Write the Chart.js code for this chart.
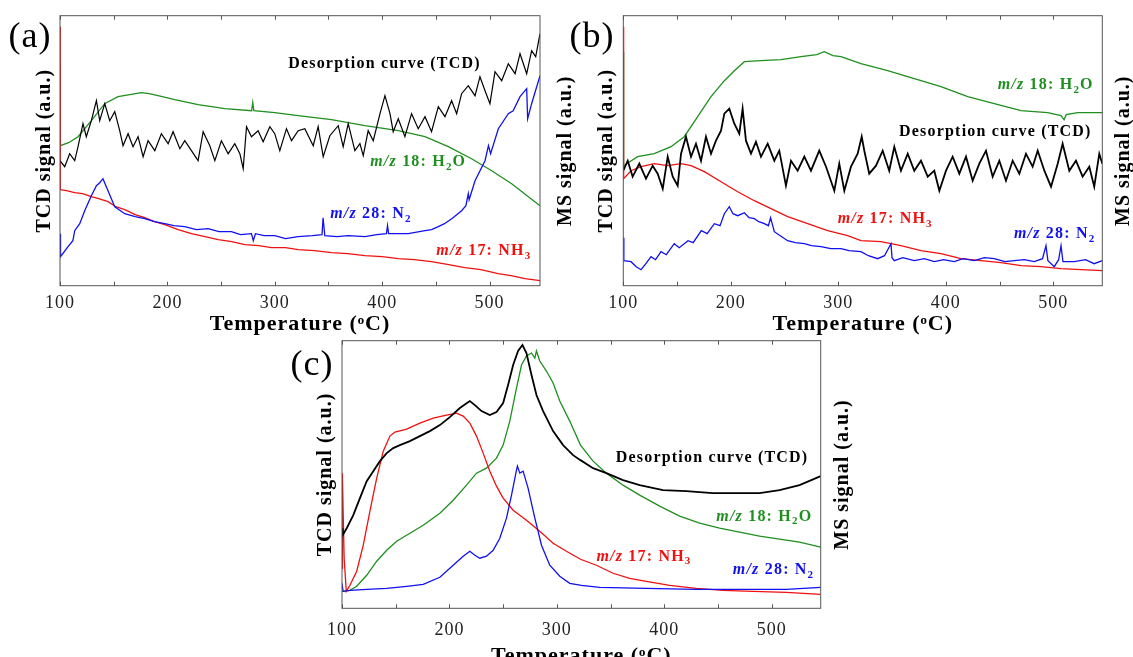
<!DOCTYPE html>
<html>
<head>
<meta charset="utf-8">
<script src="https://cdn.jsdelivr.net/npm/chart.js@4.4.1/dist/chart.umd.min.js"></script>
<style>
  html, body { margin: 0; padding: 0; background: #fff; overflow: hidden; }
  body { width: 1133px; height: 657px; position: relative; }
  canvas { position: absolute; }
</style>
</head>
<body>
<canvas id="chartA" width="580" height="340" style="left:0;top:0"></canvas>
<canvas id="chartB" width="573" height="340" style="left:560px;top:0"></canvas>
<canvas id="chartC" width="580" height="345" style="left:280px;top:330px"></canvas>
<script>
const SERIF = '"Liberation Serif", "Times New Roman", serif';

// axis ticks (temperature, oC)
const tempTicks = [100, 200, 300, 400, 500];
const minorTicks = [100, 150, 200, 250, 300, 350, 400, 450, 500];

// ---- panel (a): [temperature, signal] ----
const aTcd = [[100,125],[104.4,119],[109,132],[113.7,125],[116.8,139],[121.4,162],[124.5,149],[129.2,165],[133.9,185],[137,165],[141.7,182],[146.3,165],[151,174],[155.6,155],[158.7,140],[163.4,152],[168,139],[172.7,149],[177.4,129],[182,145],[188.3,135],[194.4,152],[200.7,142],[205.3,154],[211.6,137],[216.2,145],[222.4,135],[228.6,125],[233.3,154],[239.5,140],[244.2,125],[250.3,145],[256.6,132],[262.8,142],[267.5,132],[270.6,117],[273.7,159],[278.3,149],[284.5,155],[289.2,144],[295.4,159],[300,152],[304.7,135],[310.9,157],[315.6,145],[321.8,155],[328,157],[335.8,140],[340.4,159],[345.1,129],[351.3,150],[359.1,160],[363.7,139],[368.4,162],[374.6,135],[379.3,142],[382.4,130],[387,155],[391.7,145],[398,172],[402.6,190],[407.3,172],[410.3,154],[415,167],[421.2,149],[427.4,172],[433.6,157],[439.9,169],[446,154],[452.3,179],[458.5,169],[464.7,185],[469.4,172],[474,192],[480.2,200],[486.5,190],[491.1,209],[495.8,195],[500.4,182],[505.1,214],[511.3,205],[517.5,222],[523.8,212],[528.4,232],[534.6,212],[539.2,235],[543,229],[547,252]];
const aH2O = [[100,222],[100.3,140],[108,143],[116.8,149],[129.2,165],[141.6,182],[154,189],[165,191],[175.8,193],[183,192],[191.3,190],[206.9,186],[228.6,181],[253.5,177],[278.5,175],[279.5,183],[280.5,175],[300,173],[321.7,170],[352.8,166],[384,160],[415,155],[439.9,149],[461.6,139],[483.3,127],[502,115],[520.6,102],[536.2,89],[547,80]];
const aNH3 = [[100,259],[100.3,96],[106,95],[113.7,93],[121,92],[129.2,89],[136,87],[144.7,84],[152,79],[160.3,76],[170,71],[178.9,68],[188,64],[197.6,61],[210,56],[222.4,52],[235,49],[247.3,46],[260,44],[272.1,41],[285,40],[297,38],[310,38],[321.8,36],[337,35],[352.8,33],[368,32],[384,30],[400,29],[415,27],[430,26],[446,24],[462,21],[477,18],[492,16],[508,12],[520,10],[533,7],[540,6],[547,5]];
const aN2 = [[100,52],[100.5,29],[107.5,39],[112,45],[113.7,55],[118.4,62],[123,75],[129.2,90],[133.9,100],[137,103],[140,107],[144.7,95],[151,79],[160.3,72],[170,69],[178.9,67],[188,64],[197.6,62],[206,60],[216.2,59],[227,56],[237.9,57],[248,54],[259.6,54],[268,51],[278.3,52],[280,45],[282,52],[290,50],[300,50],[310,47],[321.8,49],[335,50],[344,51],[345,68],[346.6,50],[358,49],[368.4,50],[384,49],[395,51],[404,52],[405,60],[406,52],[424.3,52],[439.9,55],[446,56],[452.3,59],[458,62],[464.8,67],[474,75],[478,80],[480.2,92],[481,86],[486.5,105],[495.8,125],[499,140],[501,132],[508.2,157],[517.5,172],[522,175],[528.4,189],[534.6,197],[535.5,167],[539.2,182],[547,210]];

// ---- panel (b) ----
const bTcd = [[100,115],[104.1,125],[108.7,109],[114.9,122],[121.1,107],[127.3,120],[132,112],[136.7,97],[141.3,129],[146,109],[150.6,100],[153.7,132],[158.3,149],[163,129],[167.6,142],[172.3,125],[176.9,149],[181.6,132],[186.2,145],[190.9,155],[194,172],[198.6,177],[203.3,162],[207.9,152],[211,177],[214.1,145],[218.8,132],[223.4,144],[228.1,129],[234.3,142],[240.5,125],[245.1,135],[251.3,100],[256,125],[262.2,115],[268.4,129],[274.6,115],[282.3,135],[288.6,119],[296.3,95],[300.9,122],[305.6,95],[311.8,119],[318,132],[321.8,149],[324.2,135],[328.8,112],[335.1,120],[341.3,135],[347.4,115],[352.1,139],[358.3,115],[364.6,132],[370.7,115],[376.9,125],[383.2,109],[389.3,115],[394,95],[400.2,115],[406.4,129],[412.6,112],[418.8,129],[425,105],[431.2,122],[437.4,135],[443.6,109],[449.8,125],[456,105],[462.2,125],[468.4,112],[474.6,132],[480.8,119],[485.5,135],[491.7,115],[497.9,99],[504.1,122],[508.7,142],[514.9,115],[521.1,125],[527.3,109],[533.5,119],[538.1,99],[542.8,132],[545.6,122]];
const bH2O = [[100,234],[100.3,120],[113.4,129],[128.8,132],[144.4,139],[156.7,149],[169.2,169],[181.6,189],[194,205],[203.3,215],[212.6,224],[228,225],[246.7,226],[265.3,229],[280,231],[287,234],[295,230],[302.5,229],[321.1,222],[345.9,215],[370.7,207],[395.5,199],[420.4,189],[445.1,182],[470,175],[494.8,173],[507.2,170],[510,166],[512,171],[522.7,173],[545.6,173]];
const bNH3 = [[100,259],[100.3,107],[107.2,115],[116.5,119],[128.8,122],[141.3,120],[153.7,122],[163,120],[175.4,114],[190.9,104],[206.4,94],[221.9,85],[237.4,77],[252.9,69],[271.5,62],[290.1,55],[308.7,50],[321.1,45],[339.7,44],[358.3,40],[376.9,35],[395.5,32],[414.1,27],[432.7,25],[451.3,23],[470,20],[488.6,19],[507.2,17],[525.8,16],[545.6,15]];
const bN2 = [[100,48],[100.5,25],[107.2,24],[112,19],[116.5,16],[121,22],[125.8,29],[130,26],[135.1,34],[140,31],[147.4,42],[152,38],[160.2,45],[165,43],[172.6,55],[178,52],[184.7,62],[190,60],[194,72],[198.6,79],[202,72],[206.4,70],[212.6,73],[217,68],[221.9,67],[226,64],[231.2,62],[235,60],[237,68],[240.5,54],[246,50],[252.9,45],[260,43],[268.4,42],[275,40],[283.9,39],[293,37],[302.5,37],[310,35],[321.1,34],[328,30],[336.6,27],[343,30],[349,42],[350,28],[352.1,25],[360,28],[370.7,25],[380,27],[389.3,24],[398,26],[407.9,24],[416,27],[426.5,25],[436,28],[445.1,27],[455,24],[463.7,25],[473,26],[482.3,24],[490,27],[493.2,40],[495,25],[500.9,19],[505,26],[507.2,40],[509,24],[519.6,24],[530,26],[538,22],[545.6,25]];

// ---- panel (c) ----
const cTcd = [[100,80],[100.6,73],[104.4,80],[110.5,93],[116.7,110],[123,127],[129.1,137],[135.3,147],[141.6,155],[147.7,160],[153.9,163],[163.2,167],[172.5,172],[181.8,177],[191.1,183],[200.4,191],[209.7,200],[215,204],[219,207],[223.7,203],[229.9,197],[237.6,193],[243.8,196],[250,205],[254.6,223],[259.3,243],[263.9,257],[268,263],[271.7,255],[276.4,233],[281,213],[287.2,197],[296.5,177],[305.8,163],[315.1,153],[322,148],[333.7,140],[346.1,135],[361.6,128],[377.1,123],[398.8,118],[420.5,117],[445.2,115],[470,115],[488.7,115],[507.3,118],[525.9,123],[545.6,132]];
const cH2O = [[100,17],[107.4,18],[113.7,22],[123,33],[132.3,47],[141.6,58],[150.9,67],[163.2,75],[175.6,83],[191.1,95],[203.5,108],[215.9,123],[225.2,135],[234.5,140],[243.8,150],[250,163],[256.2,187],[262.4,220],[267.1,243],[271.7,252],[276.4,255],[279.5,250],[281,257],[284.1,247],[290.3,237],[296.5,225],[302.7,207],[312,187],[322,163],[333.7,147],[346.1,135],[361.6,123],[377.1,113],[395.7,102],[414.3,92],[432.9,85],[451.5,80],[470.1,76],[488.7,72],[507.3,69],[525.9,66],[545.6,61]];
const cNH3 = [[100,40],[100.4,135],[101,100],[102,50],[104,17],[107.4,23],[113.7,37],[119.8,63],[126,97],[132.3,130],[138.4,157],[144.6,172],[149.3,176],[160.2,179],[172.5,185],[184.9,190],[197.3,193],[206.6,195],[212.8,192],[219,185],[225.2,172],[231.4,155],[237.6,137],[243.8,122],[250,110],[259.3,98],[271.7,88],[284.1,77],[296.5,65],[308.9,57],[322,49],[336.8,43],[352.3,35],[367.8,30],[383.3,27],[405,23],[429.8,20],[454.6,18],[482.5,17],[513.5,16],[545.6,14]];
const cN2 = [[100,25],[101,17],[107.4,18],[123,19],[141.6,20],[160.2,22],[175.6,24],[191.1,31],[203.5,43],[212.8,52],[219,57],[223.7,53],[228.3,50],[234.5,52],[240.7,58],[246.9,70],[253.1,90],[257.8,113],[262.4,138],[263.3,142],[265.5,135],[268.6,137],[273.2,120],[279.5,90],[285.7,63],[293.4,43],[302.7,32],[312,25],[322.9,23],[339.9,21],[383.3,20],[429.8,19],[476.3,19],[513.5,19],[545.6,21]];

const BLACK = '#000000', GREEN = '#1f8f1f', RED = '#f01010', BLUE = '#1010f0';

// spacing: the reference lettering is slightly spread out
const spacing = {
  id: 'spacing',
  beforeDraw(chart) { chart.ctx.letterSpacing = '1px'; },
  afterDraw(chart) { chart.ctx.letterSpacing = '0px'; }
};

// frame + inward tick marks
const frame = {
  id: 'frame',
  afterDatasetsDraw(chart) {
    const { ctx, chartArea: a, scales: { x } } = chart;
    ctx.save();
    ctx.strokeStyle = '#555';
    ctx.lineWidth = 1;
    ctx.strokeRect(a.left, a.top, a.right - a.left, a.bottom - a.top);
    ctx.beginPath();
    minorTicks.forEach(v => {
      const px = Math.round(x.getPixelForValue(v)) + 0.5;
      ctx.moveTo(px, a.top); ctx.lineTo(px, a.top + 4);
      ctx.moveTo(px, a.bottom); ctx.lineTo(px, a.bottom - 4);
    });
    ctx.stroke();
    ctx.restore();
  }
};

// curve labels (italic m/z, subscripts), right axis title read bottom-up, panel letter
const panelText = {
  id: 'panelText',
  afterDatasetsDraw(chart, args, opts) {
    const { ctx, chartArea: a, scales: { x, y } } = chart;
    ctx.save();
    ctx.letterSpacing = '1.2px';
    ctx.textBaseline = 'middle';
    ctx.textAlign = 'left';
    opts.labels.forEach(lab => {
      let px = x.getPixelForValue(lab.x);
      const py = y.getPixelForValue(lab.y);
      ctx.fillStyle = lab.color;
      lab.parts.forEach(([txt, st]) => {
        const size = st === 's' ? 11 : 16;
        ctx.font = (st === 'i' ? 'italic ' : '') + 'bold ' + size + 'px ' + SERIF;
        ctx.fillText(txt, px, st === 's' ? py + 5 : py);
        px += ctx.measureText(txt).width;
      });
    });
    ctx.letterSpacing = '1px';
    ctx.fillStyle = '#000';
    ctx.textAlign = 'center';
    ctx.font = 'bold 20px ' + SERIF;
    ctx.save();
    ctx.translate(opts.rightTitleX, (a.top + a.bottom) / 2);
    ctx.rotate(-Math.PI / 2);
    ctx.fillText('MS signal (a.u.)', 0, 0);
    ctx.restore();
    ctx.font = '36px ' + SERIF;
    ctx.fillText(opts.tag, opts.tagX, opts.tagY);
    ctx.restore();
  }
};

const labelsFor = (tcd, h2o, nh3, n2) => [
  { x: tcd[0], y: tcd[1], color: BLACK, parts: [['Desorption curve (TCD)', 'b']] },
  { x: h2o[0], y: h2o[1], color: GREEN, parts: [['m/z', 'i'], [' 18: H', 'b'], ['2', 's'], ['O', 'b']] },
  { x: nh3[0], y: nh3[1], color: RED, parts: [['m/z', 'i'], [' 17: NH', 'b'], ['3', 's']] },
  { x: n2[0], y: n2[1], color: BLUE, parts: [['m/z', 'i'], [' 28: N', 'b'], ['2', 's']] }
];

function makeChart(id, p) {
  const series = [
    { data: p.tcd, color: BLACK, width: p.tcdWidth },
    { data: p.n2, color: BLUE, width: 1.3 },
    { data: p.nh3, color: RED, width: 1.3 },
    { data: p.h2o, color: GREEN, width: 1.3 }
  ];
  const titleFont = (size) => ({ family: SERIF, size: size, weight: 'bold', lineHeight: 1 });
  return new Chart(document.getElementById(id), {
    type: 'line',
    data: {
      datasets: series.map(s => ({
        data: s.data.map(([t, v]) => ({ x: t, y: v })),
        borderColor: s.color, borderWidth: s.width,
        pointRadius: 0, tension: 0, fill: false
      }))
    },
    options: {
      responsive: false,
      animation: false,
      events: [],
      layout: { padding: { top: p.padTop, left: 0, right: 0, bottom: 0 } },
      plugins: {
        legend: { display: false },
        tooltip: { enabled: false },
        panelText: { labels: p.labels, tag: p.tag, tagX: p.tagX, tagY: p.tagY, rightTitleX: p.rightTitleX }
      },
      scales: {
        x: {
          type: 'linear', position: 'bottom', min: 100, max: p.xMax,
          grid: { display: false, drawTicks: false }, border: { display: false },
          afterBuildTicks: s => { s.ticks = tempTicks.map(v => ({ value: v })); },
          ticks: { color: '#222', font: { family: SERIF, size: 18 }, padding: p.tickPad, maxRotation: 0 },
          title: { display: true, text: 'Temperature (ᵒC)', color: '#000', font: titleFont(22), padding: { top: 0, bottom: p.xTitlePad } },
          afterFit: s => { s.height = p.xHeight; }
        },
        y: {
          position: 'left', min: 0, max: p.yMax,
          grid: { display: false, drawTicks: false }, border: { display: false },
          ticks: { display: false },
          title: { display: true, text: 'TCD signal (a.u.)', color: '#000', font: titleFont(20), padding: { top: p.leftPad, bottom: 0 } },
          afterFit: s => { s.width = p.leftW; }
        },
        y2: {
          position: 'right', min: 0, max: p.yMax,
          grid: { display: false, drawTicks: false }, border: { display: false },
          ticks: { display: false },
          afterFit: s => { s.width = p.rightW; }
        }
      }
    },
    plugins: [spacing, frame, panelText]
  });
}

makeChart('chartA', {
  tcd: aTcd, h2o: aH2O, nh3: aNH3, n2: aN2, tcdWidth: 1.2,
  yMax: 270, xMax: 547, padTop: 15.7, leftW: 60, rightW: 40, xHeight: 54.3,
  leftPad: 35, rightTitleX: 566, xTitlePad: 5, tickPad: 7,
  labels: labelsFor([312.5, 221.7], [388.9, 123.7], [450.4, 35], [351.6, 71.7]),
  tag: '(a)', tagX: 30, tagY: 38
});

makeChart('chartB', {
  tcd: bTcd, h2o: bH2O, nh3: bNH3, n2: bN2, tcdWidth: 1.8,
  yMax: 270, xMax: 545.6, padTop: 15.7, leftW: 63.3, rightW: 30.7, xHeight: 54.3,
  leftPad: 36.5, rightTitleX: 564, xTitlePad: 5, tickPad: 7,
  labels: labelsFor([356.5, 153.4], [448.3, 201], [299.4, 66.7], [463.4, 51.7]),
  tag: '(b)', tagX: 32, tagY: 38
});

makeChart('chartC', {
  tcd: cTcd, h2o: cH2O, nh3: cNH3, n2: cN2, tcdWidth: 1.8,
  yMax: 267.3, xMax: 545.6, padTop: 10.7, leftW: 62, rightW: 39.3, xHeight: 66.7,
  leftPad: 36, rightTitleX: 562.5, xTitlePad: 8, tickPad: 10.7,
  labels: labelsFor([354.8, 150], [448.4, 91.7], [336.8, 51.7], [463.8, 38.3]),
  tag: '(c)', tagX: 32, tagY: 36
});
</script>
</body>
</html>
